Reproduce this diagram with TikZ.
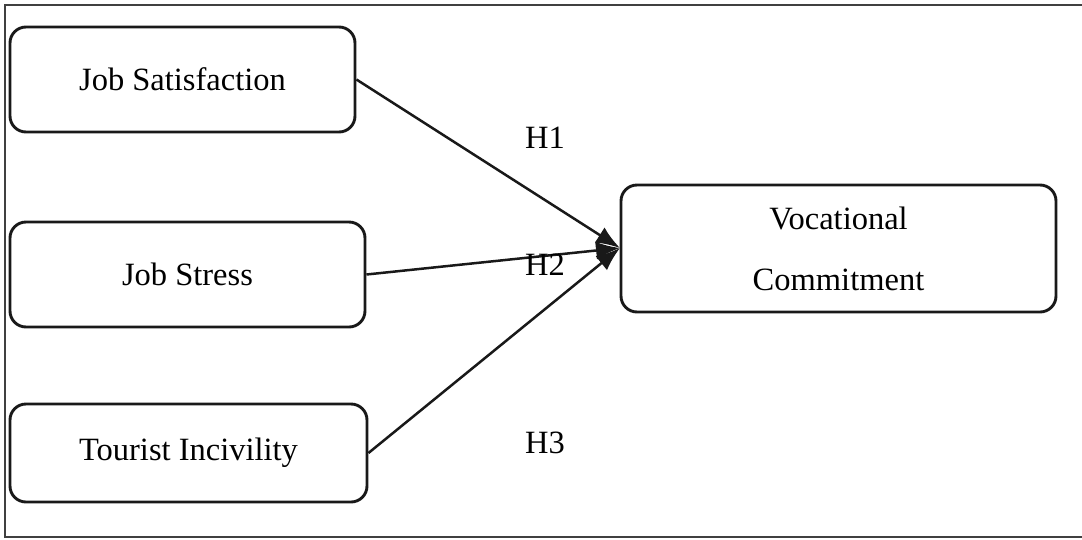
\documentclass[tikz,border=0pt]{standalone}
\usepackage{fontspec}
\setmainfont{Liberation Serif}
\usetikzlibrary{arrows.meta}
\begin{document}
\begin{tikzpicture}[x=1pt,y=-1pt,
  box/.style={draw=black!90, line width=2.9pt, rounded corners=16pt, inner sep=0pt, font=\fontsize{32.5}{61}\selectfont, align=center},
  link/.style={draw=black!90, line width=2.5pt, -{Latex[length=24pt,width=18pt]}},
  hlab/.style={font=\fontsize{32.5}{39}\selectfont, inner sep=0pt}]
\useasboundingbox (0,0) rectangle (1082,539);
\draw[black!75, line width=2pt] (5,5) rectangle (1090,537);
\node[box, minimum width=345pt, minimum height=105pt] (js) at (182.5,79.5) {Job Satisfaction};
\node[box, minimum width=355pt, minimum height=105pt] (jst) at (187.5,274.5) {Job Stress};
\node[box, minimum width=357pt, minimum height=98pt] (ti) at (188.5,453) {Tourist Incivility};
\node[box, minimum width=435pt, minimum height=127pt] (vc) at (838.5,248.5) {Vocational\\Commitment};
\coordinate (tip) at (620,248);
\draw[link] (js.east) -- (tip);
\draw[link] (jst.east) -- (tip);
\draw[link] (ti.east) -- (tip);
\node[hlab] (h1) at (545,138) {H1};
\node[hlab] (h2) at (545,265) {H2};
\node[hlab] (h3) at (545,443) {H3};
\end{tikzpicture}
\end{document}
